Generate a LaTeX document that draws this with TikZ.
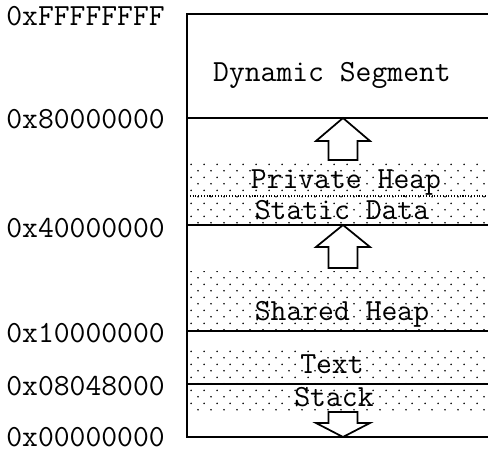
\documentclass[tikz,border=0pt]{standalone}
\usepackage{tikz}
\usetikzlibrary{patterns.meta}
\tikzdeclarepattern{
  name=motas,
  type=uncolored,
  bounding box={(0pt,0pt) and (7.4pt,7.6pt)},
  tile size={(7.4pt,7.6pt)},
  code={
    \fill (1.85pt,1.9pt) circle [radius=0.55pt];
    \fill (5.55pt,5.7pt) circle [radius=0.55pt];
  }
}
\newcommand{\fuente}{\fontsize{17.5}{20}\selectfont\ttfamily}
\tikzset{
  direccion/.style={font=\fuente,anchor=base west,inner sep=0pt},
  rotulo/.style={font=\fuente,anchor=base,inner sep=0pt},
  borde/.style={line width=1.1pt},
  divisoria/.style={line width=0.6pt,densely dotted},
  punteado/.style={pattern=motas,pattern color=black},
  flecha/.style={draw,line width=1pt,fill=white,line join=miter},
}

\begin{document}
\begin{tikzpicture}[x=0.02cm,y=-0.02cm]
  \useasboundingbox[fill=white] (0,0) rectangle (488,453);
  % zonas punteadas
  \fill[punteado] (187,160) rectangle (488,225);
  \fill[punteado] (187,272) rectangle (488,331);
  \fill[punteado] (187,347) rectangle (488,412);
  % segmentos
  \draw[borde] (488,14) -- (187,14) -- (187,437) -- (488,437);
  \foreach \y in {118,225,331,384}
    \draw[borde] (187,\y) -- (488,\y);
  \draw[divisoria] (187,196) -- (488,196);
  % flechas de crecimiento
  \draw[flecha] (343,118) -- ++(27,23) -- ++(-12.5,0) -- ++(0,19) -- ++(-29,0) -- ++(0,-19) -- ++(-12.5,0) -- cycle;
  \draw[flecha] (343,225) -- ++(27,22) -- ++(-12.5,0) -- ++(0,21) -- ++(-29,0) -- ++(0,-21) -- ++(-12.5,0) -- cycle;
  \draw[flecha] (343,437) -- ++(27,-14) -- ++(-12.5,0) -- ++(0,-11) -- ++(-29,0) -- ++(0,11) -- ++(-12.5,0) -- cycle;
  % direcciones
  \node[direccion] (dFFFF) at (6,26) {0xFFFFFFFF};
  \node[direccion] (d8000) at (6,129) {0x80000000};
  \node[direccion] (d4000) at (6,237) {0x40000000};
  \node[direccion] (d1000) at (6,342) {0x10000000};
  \node[direccion] (d0804) at (6,396) {0x08048000};
  \node[direccion] (d0000) at (6,446.5) {0x00000000};
  % contenido de cada segmento
  \node[rotulo] (dinamico) at (332,81.5) {Dynamic Segment};
  \node[rotulo] (privado) at (346,188.5) {Private Heap};
  \node[rotulo] (estatico) at (342,219.5) {Static Data};
  \node[rotulo] (compartido) at (342,320.5) {Shared Heap};
  \node[rotulo] (codigo) at (332,373.5) {Text};
  \node[rotulo] (pila) at (334,406.5) {Stack};
\end{tikzpicture}
\end{document}
